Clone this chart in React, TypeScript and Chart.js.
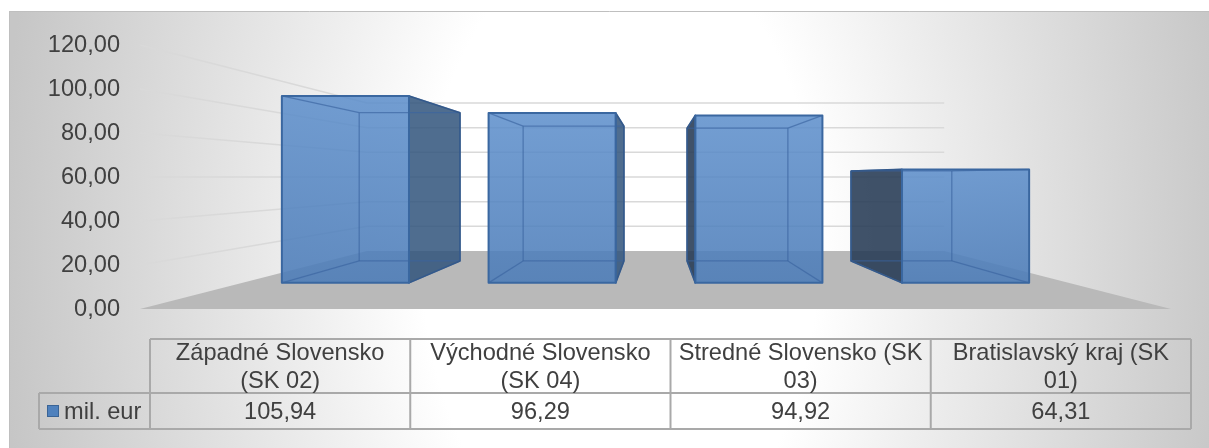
import React, { useEffect, useRef } from 'react';
import { Chart, registerables } from 'chart.js';

Chart.register(...registerables);

// ---------- data ----------
const categoryLines: string[][] = [
  ['Západné Slovensko', '(SK 02)'],
  ['Východné Slovensko', '(SK 04)'],
  ['Stredné Slovensko (SK', '03)'],
  ['Bratislavský kraj (SK', '01)'],
];
const values: number[] = [105.94, 96.29, 94.92, 64.31];
const seriesName = 'mil. eur';
const yTickValues: number[] = [0, 20, 40, 60, 80, 100, 120];
const yTickLabels: string[] = ['0,00', '20,00', '40,00', '60,00', '80,00', '100,00', '120,00'];

// ---------- style / layout ----------
const W = 1209;
const H = 448;
const FONT = "'Liberation Sans', Arial, sans-serif";
const FONT_SIZE = 23.6;
const TEXT = '#404040';

const BAR_FRONT = 0.802; // depth scale of bar front faces
const BAR_BACK = 0.636; // depth scale of bar back faces
const WALL_BACK = 0.56; // depth scale of back wall

const TABLE_LEG_LEFT = 39;
const TABLE_LEFT = 150;
const TABLE_RIGHT = 1191;
const TABLE_HEAD_TOP = 339;
const TABLE_ROW_SEP = 393;
const TABLE_BOTTOM = 429;

const fmt = (v: number) => v.toFixed(2).replace('.', ',');

type Pt = [number, number];

function poly(ctx: CanvasRenderingContext2D, pts: Pt[], fill?: string | CanvasGradient, stroke?: string, lw = 1) {
  ctx.beginPath();
  ctx.moveTo(pts[0][0], pts[0][1]);
  for (let i = 1; i < pts.length; i++) ctx.lineTo(pts[i][0], pts[i][1]);
  ctx.closePath();
  if (fill) {
    ctx.fillStyle = fill;
    ctx.fill();
  }
  if (stroke) {
    ctx.strokeStyle = stroke;
    ctx.lineWidth = lw;
    ctx.lineJoin = 'round';
    ctx.stroke();
  }
}

function line(ctx: CanvasRenderingContext2D, a: Pt, b: Pt) {
  ctx.beginPath();
  ctx.moveTo(a[0], a[1]);
  ctx.lineTo(b[0], b[1]);
  ctx.stroke();
}

const excel3d = {
  id: 'excel3d',
  beforeDraw(chart: any) {
    const ctx: CanvasRenderingContext2D = chart.ctx;
    ctx.save();
    ctx.fillStyle = '#ffffff';
    ctx.fillRect(0, 0, W, H);
    const cx = 620;
    const cy = 250;
    const sy = 1.6;
    ctx.translate(cx, cy);
    ctx.scale(1, sy);
    const g = ctx.createRadialGradient(0, 0, 0, 0, 0, 620);
    g.addColorStop(0, '#ffffff');
    g.addColorStop(0.32, '#ffffff');
    g.addColorStop(0.5, '#efefef');
    g.addColorStop(0.78, '#d8d8d8');
    g.addColorStop(1, '#c6c6c6');
    ctx.fillStyle = g;
    ctx.fillRect(9 - cx, (11 - cy) / sy, W - 9, (H - 11) / sy);
    ctx.restore();
    ctx.save();
    ctx.strokeStyle = '#bfbfbf';
    ctx.lineWidth = 1;
    ctx.beginPath();
    ctx.moveTo(9.5, H);
    ctx.lineTo(9.5, 11.5);
    ctx.lineTo(W, 11.5);
    ctx.stroke();
    ctx.restore();
  },
  beforeDatasetsDraw(chart: any) {
    const ctx: CanvasRenderingContext2D = chart.ctx;
    const ca = chart.chartArea;
    const ys = chart.scales.y;
    const vx = (ca.left + ca.right) / 2;
    const vy = (ca.top + ca.bottom) / 2;
    const P = (x: number, y: number, s: number): Pt => [vx + (x - vx) * s, vy + (y - vy) * s];
    ctx.save();
    const y0 = ys.getPixelForValue(0);
    // floor
    poly(ctx, [[ca.left, y0], [ca.right, y0], P(ca.right, y0, WALL_BACK), P(ca.left, y0, WALL_BACK)], '#b9b9b9');
    // gridlines on side and back wall
    ctx.strokeStyle = '#d9d9d9';
    ctx.lineWidth = 1.5;
    yTickValues.forEach((v) => {
      if (v === 0) return;
      const yp = ys.getPixelForValue(v);
      const a = P(ca.left, yp, WALL_BACK);
      const b = P(ca.right, yp, WALL_BACK);
      ctx.beginPath();
      ctx.moveTo(ca.left, yp);
      ctx.lineTo(a[0], a[1]);
      ctx.lineTo(b[0], b[1]);
      ctx.stroke();
    });
    ctx.restore();
  },
  afterDatasetsDraw(chart: any) {
    const ctx: CanvasRenderingContext2D = chart.ctx;
    const ca = chart.chartArea;
    const vx = (ca.left + ca.right) / 2;
    const vy = (ca.top + ca.bottom) / 2;
    const P = (x: number, y: number, s: number): Pt => [vx + (x - vx) * s, vy + (y - vy) * s];
    const meta = chart.getDatasetMeta(0);
    ctx.save();
    meta.data.forEach((el: any) => {
      const xl = el.x - el.width / 2;
      const xr = el.x + el.width / 2;
      const yt = el.y;
      const yb = el.base;
      const f = { tl: P(xl, yt, BAR_FRONT), tr: P(xr, yt, BAR_FRONT), br: P(xr, yb, BAR_FRONT), bl: P(xl, yb, BAR_FRONT) };
      const b = { tl: P(xl, yt, BAR_BACK), tr: P(xr, yt, BAR_BACK), br: P(xr, yb, BAR_BACK), bl: P(xl, yb, BAR_BACK) };
      const sides: Pt[][] = [];
      if (f.tr[0] < vx) {
        const pts: Pt[] = [f.tr, b.tr, b.br, f.br];
        poly(ctx, pts, 'rgba(50,85,125,0.86)');
        sides.push(pts);
      }
      if (f.tl[0] > vx) {
        const pts: Pt[] = [f.tl, b.tl, b.bl, f.bl];
        poly(ctx, pts, 'rgba(38,58,84,0.88)');
        sides.push(pts);
      }
      if (f.tl[1] > vy) {
        const pts: Pt[] = [f.tl, f.tr, b.tr, b.tl];
        poly(ctx, pts, 'rgba(110,155,210,0.9)');
        sides.push(pts);
      }
      // front face
      const g = ctx.createLinearGradient(0, f.tl[1], 0, f.bl[1]);
      g.addColorStop(0, 'rgba(92,142,203,0.86)');
      g.addColorStop(1, 'rgba(76,124,184,0.88)');
      poly(ctx, [f.tl, f.tr, f.br, f.bl], g);
      // inner (see-through) edges
      ctx.strokeStyle = 'rgba(58,100,160,0.65)';
      ctx.lineWidth = 1.3;
      line(ctx, b.tl, b.tr);
      line(ctx, b.tr, b.br);
      line(ctx, b.br, b.bl);
      line(ctx, b.bl, b.tl);
      line(ctx, f.tl, b.tl);
      line(ctx, f.tr, b.tr);
      line(ctx, f.br, b.br);
      line(ctx, f.bl, b.bl);
      // outlines
      sides.forEach((s) => poly(ctx, s, undefined, '#34598a', 1.6));
      poly(ctx, [f.tl, f.tr, f.br, f.bl], undefined, '#3a67a0', 2);
    });
    ctx.restore();
  },
  afterDraw(chart: any) {
    const ctx: CanvasRenderingContext2D = chart.ctx;
    const n = categoryLines.length;
    const cw = (TABLE_RIGHT - TABLE_LEFT) / n;
    ctx.save();
    ctx.strokeStyle = '#a9a9a9';
    ctx.lineWidth = 2;
    ctx.beginPath();
    ctx.moveTo(TABLE_LEFT, TABLE_HEAD_TOP);
    ctx.lineTo(TABLE_RIGHT, TABLE_HEAD_TOP);
    ctx.moveTo(TABLE_LEG_LEFT, TABLE_ROW_SEP);
    ctx.lineTo(TABLE_RIGHT, TABLE_ROW_SEP);
    ctx.moveTo(TABLE_LEG_LEFT, TABLE_BOTTOM);
    ctx.lineTo(TABLE_RIGHT, TABLE_BOTTOM);
    ctx.moveTo(TABLE_LEG_LEFT, TABLE_ROW_SEP);
    ctx.lineTo(TABLE_LEG_LEFT, TABLE_BOTTOM);
    for (let i = 0; i <= n; i++) {
      const x = TABLE_LEFT + i * cw;
      ctx.moveTo(x, TABLE_HEAD_TOP);
      ctx.lineTo(x, TABLE_BOTTOM);
    }
    ctx.stroke();

    ctx.fillStyle = TEXT;
    ctx.font = `${FONT_SIZE}px ${FONT}`;
    ctx.textAlign = 'center';
    ctx.textBaseline = 'middle';
    const headMid = (TABLE_HEAD_TOP + TABLE_ROW_SEP) / 2;
    const lh = 28;
    categoryLines.forEach((lines, i) => {
      const cx = TABLE_LEFT + (i + 0.5) * cw;
      const start = headMid - ((lines.length - 1) * lh) / 2;
      lines.forEach((t, j) => ctx.fillText(t, cx, start + j * lh + 1));
    });
    const valMid = (TABLE_ROW_SEP + TABLE_BOTTOM) / 2;
    values.forEach((v, i) => {
      const cx = TABLE_LEFT + (i + 0.5) * cw;
      ctx.fillText(fmt(v), cx, valMid + 1);
    });
    // legend key
    ctx.fillStyle = '#4f81bd';
    ctx.fillRect(47, valMid - 6, 12, 12);
    ctx.strokeStyle = '#3a6496';
    ctx.lineWidth = 1;
    ctx.strokeRect(47.5, valMid - 5.5, 11, 11);
    ctx.fillStyle = TEXT;
    ctx.textAlign = 'left';
    ctx.fillText(seriesName, 64, valMid + 1);
    ctx.restore();
  },
};

export default function App() {
  const ref = useRef<HTMLCanvasElement | null>(null);
  useEffect(() => {
    if (!ref.current) return;
    const chart = new Chart(ref.current, {
      type: 'bar',
      data: {
        labels: categoryLines,
        datasets: [
          {
            label: seriesName,
            data: values,
            backgroundColor: 'rgba(0,0,0,0)',
            borderWidth: 0,
            barPercentage: 0.615,
            categoryPercentage: 1,
          },
        ],
      },
      options: {
        responsive: false,
        animation: false,
        devicePixelRatio: 1,
        layout: { padding: { left: 0, top: 45, right: 38, bottom: 139 } },
        plugins: { legend: { display: false }, tooltip: { enabled: false }, title: { display: false } },
        events: [],
        scales: {
          x: { display: false },
          y: {
            min: 0,
            max: 120,
            afterFit: (scale: any) => {
              scale.width = 140;
            },
            afterBuildTicks: (scale: any) => {
              scale.ticks = yTickValues.map((v) => ({ value: v }));
            },
            grid: { display: false, drawTicks: false },
            border: { display: false },
            ticks: {
              padding: 20,
              color: TEXT,
              font: { family: FONT, size: FONT_SIZE },
              callback: (value: any) => {
                const i = yTickValues.indexOf(Number(value));
                return i >= 0 ? yTickLabels[i] : '';
              },
            },
          },
        },
      },
      plugins: [excel3d],
    } as any);
    return () => chart.destroy();
  }, []);
  return (
    <div style={{ position: 'absolute', left: 0, top: 0, width: W, height: H }}>
      <canvas ref={ref} width={W} height={H} style={{ display: 'block', width: W, height: H }} />
    </div>
  );
}
